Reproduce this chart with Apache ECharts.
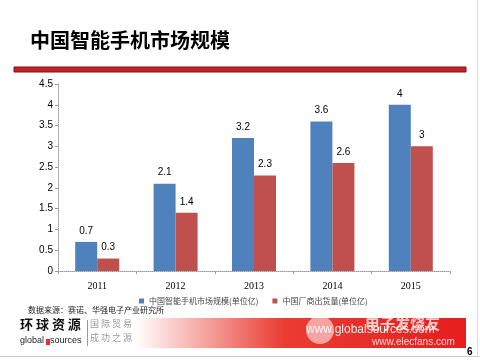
<!DOCTYPE html>
<html><head><meta charset="utf-8">
<script src="https://cdn.jsdelivr.net/npm/echarts@6/dist/echarts.min.js"></script>
<style>html,body{margin:0;padding:0;background:#fff}#c{width:480px;height:360px}</style>
</head><body><div id="c"></div>
<script>
const years = ['2011','2012','2013','2014','2015'];
const marketSize = [0.7, 2.1, 3.2, 3.6, 4];
const chinaShipments = [0.3, 1.4, 2.3, 2.6, 3];
const seriesNames = ['中国智能手机市场规模(单位亿)', '中国厂商出货量(单位亿)'];
const titleText = '中国智能手机市场规模';
const sourceText = '数据来源：赛诺、华强电子产业研究所';

const chart = echarts.init(document.getElementById('c'), null, {renderer:'canvas'});
chart.setOption({
  backgroundColor:'#fff',
  animation:false,
  grid:{left:58, right:30, top:84, bottom:89},
  legend:{
    left:134, top:292, itemWidth:5, itemHeight:5, itemGap:14,
    icon:'rect',
    textStyle:{fontSize:8, color:'#444', fontFamily:'Noto Sans CJK SC'},
    data:seriesNames
  },
  xAxis:{
    type:'category', data:years,
    axisLine:{lineStyle:{color:'#999', type:'dotted', width:1}},
    axisTick:{show:true, length:3, lineStyle:{color:'#999'}},
    axisLabel:{fontSize:10, color:'#000', fontFamily:'Liberation Serif', margin:10}
  },
  yAxis:{
    type:'value', min:0, max:4.5, interval:0.5,
    splitLine:{show:false},
    axisLine:{show:true, lineStyle:{color:'#999', type:'dotted'}},
    axisTick:{show:true, length:3, inside:false, lineStyle:{color:'#999'}},
    axisLabel:{fontSize:10, color:'#000', fontFamily:'Liberation Sans', margin:5}
  },
  series:[
    {name:seriesNames[0], type:'bar', data:marketSize, barWidth:22, barGap:'0%',
     itemStyle:{color:'#4F81BD'},
     label:{show:true, position:'top', fontSize:10, color:'#000', distance:6, fontFamily:'Liberation Sans'}},
    {name:seriesNames[1], type:'bar', data:chinaShipments, barWidth:22,
     itemStyle:{color:'#C0504D'},
     label:{show:true, position:'top', fontSize:10, color:'#000', distance:6, fontFamily:'Liberation Sans'}}
  ],
  graphic:[
    {type:'text', left:30, top:30, style:{text:titleText, font:'bold 20px "Noto Sans CJK SC"', fill:'#000'}},
    {type:'rect', shape:{x:14, y:67, width:452, height:5}, style:{fill:'#C8202A', stroke:'#6a1a1a', lineWidth:1}},
    {type:'text', left:28, top:306, style:{text:sourceText, font:'8px "Noto Sans CJK SC"', fill:'#222'}},
    {type:'rect', shape:{x:135, y:318, width:331, height:30},
     style:{fill:new echarts.graphic.LinearGradient(0,0,1,0,[
       {offset:0, color:'rgba(255,255,255,1)'},
       {offset:0.45, color:'rgba(234,60,50,1)'},
       {offset:1, color:'rgba(230,30,30,1)'}])}},
    {type:'text', left:20, top:318, style:{text:'环 球 资 源', font:'bold 13px "Noto Sans CJK SC"', fill:'#111'}},
    {type:'text', left:20, top:336, style:{text:'global', font:'9px "Liberation Sans"', fill:'#222'}},
    {type:'rect', shape:{x:46, y:339, width:4, height:6}, style:{fill:'#E03030'}},
    {type:'text', left:50, top:336, style:{text:'sources', font:'9px "Liberation Sans"', fill:'#222'}},
    {type:'rect', shape:{x:87, y:320, width:1, height:26}, style:{fill:'#999'}},
    {type:'text', left:90, top:319, style:{text:'国 际 贸 易', font:'9px "Noto Sans CJK SC"', fill:'#999'}},
    {type:'text', left:90, top:333, style:{text:'成 功 之 源', font:'9px "Noto Sans CJK SC"', fill:'#999'}},
    {type:'circle', shape:{cx:320, cy:330, r:14}, style:{fill:'rgba(255,255,255,0.55)'}},
    {type:'text', left:306, top:324, style:{text:'www.globalsources.com', font:'12px "Liberation Sans"', fill:'rgba(255,255,255,0.9)'}},
    {type:'text', left:365, top:316, style:{text:'电子发烧友', font:'bold 15px "Noto Sans CJK SC"', fill:'rgba(255,255,255,0.75)'}},
    {type:'text', left:372, top:337, style:{text:'www.elecfans.com', font:'10px "Liberation Sans"', fill:'rgba(255,255,255,0.8)'}},
    {type:'text', left:467, top:347, style:{text:'6', font:'bold 10px "Liberation Sans"', fill:'#000'}},
    {type:'rect', shape:{x:0, y:356, width:480, height:1}, style:{fill:'#ccc'}},
    {type:'rect', shape:{x:477, y:0, width:1, height:357}, style:{fill:'#ddd'}}
  ]
});
</script></body></html>
